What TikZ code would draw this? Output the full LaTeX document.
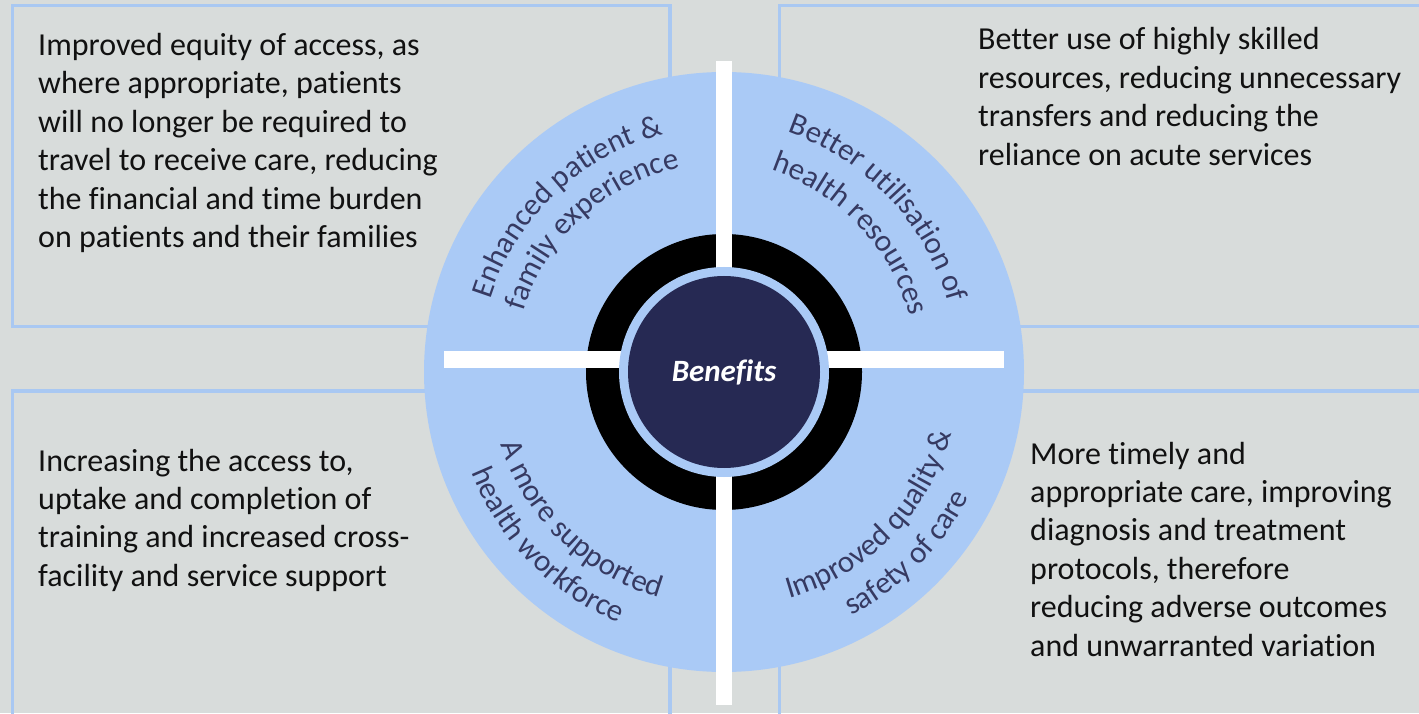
\documentclass[tikz,border=0pt]{standalone}
\usepackage{fontspec}
\setmainfont{Carlito}[Ligatures=NoCommon]
\usetikzlibrary{decorations.text,calc}
\definecolor{bg}{HTML}{D8DCDB}
\definecolor{frame}{HTML}{A9C8F2}
\definecolor{disc}{HTML}{AACAF6}
\definecolor{hub}{HTML}{262953}
\definecolor{lbl}{HTML}{363A62}
\definecolor{bodytxt}{HTML}{111111}
\newcommand\bodyfont{\fontsize{32}{38.4}\selectfont}
\newcommand\lblfont{\fontsize{31}{37}\selectfont}

\begin{document}
\begin{tikzpicture}[x=1pt,y=1pt,
  panel/.style={draw=frame, line width=3.5pt},
  blurb/.style={anchor=base west, inner sep=0pt, font=\bodyfont, text=bodytxt},
  arclabel/.style={decorate, decoration={text along path, text align=center,
      text color=lbl, text={|\lblfont|#1}}}
]
\clip (0,0) rectangle (1419,713);
\fill[bg] (0,0) rectangle (1419,713);
\coordinate (C) at (724,341);
% the upper right labels bend round a point a little left of the hub
\coordinate (Cr) at (704,341);

% four framed panels
\draw[panel] (12.5,707.5) rectangle (670,386.5);
\draw[panel] (779.5,707.5) rectangle (1440,386.5);
\draw[panel] (12.5,322) rectangle (670,-20);
\draw[panel] (779.5,322) rectangle (1440,-20);

% central wheel
\fill[disc] (C) circle[radius=300];
\fill[black] (C) circle[radius=138];
\fill[white] (716,8) rectangle (732,652);
\fill[white] (444,345) rectangle (1004,362);
\fill[disc] (C) circle[radius=105];
\node[circle, fill=hub, minimum size=192pt, inner sep=0pt, text=white,
      font=\lblfont\bfseries\itshape] (hub) at (C) {Benefits};

% curved quadrant labels
\path[arclabel={Enhanced patient {\&}}]
  ($(C)+(183.5:245)$) arc[start angle=183.5, end angle=83.5, radius=245];
\path[arclabel={family experience}]
  ($(C)+(182.7:209)$) arc[start angle=182.7, end angle=82.7, radius=209];
\path[arclabel={Better utilisation of}]
  ($(Cr)+(93.3:254)$) arc[start angle=93.3, end angle=-6.7, radius=254];
\path[arclabel={health resources}]
  ($(Cr)+(93.3:213)$) arc[start angle=93.3, end angle=-6.7, radius=213];
\path[arclabel={A more supported}]
  ($(C)+(176:235)$) arc[start angle=176, end angle=276, radius=235];
\path[arclabel={health workforce}]
  ($(C)+(174.5:272)$) arc[start angle=174.5, end angle=274.5, radius=272];
\path[arclabel={Improved quality {\&}}]
  ($(C)+(265.5:236)$) arc[start angle=265.5, end angle=365.5, radius=236];
\path[arclabel={safety of care}]
  ($(C)+(265.3:275)$) arc[start angle=265.3, end angle=365.3, radius=275];

% panel texts
\node[blurb] (tl) at (38,657.5) {\begin{tabular}[t]{@{}l@{}}
Improved equity of access, as\\
where appropriate, patients\\
will no longer be required to\\
travel to receive care, reducing\\
the financial and time burden\\
on patients and their families\end{tabular}};
\node[blurb] (tr) at (978,663) {\begin{tabular}[t]{@{}l@{}}
Better use of highly skilled\\
resources, reducing unnecessary\\
transfers and reducing the\\
reliance on acute services\end{tabular}};
\node[blurb] (bl) at (38,242) {\begin{tabular}[t]{@{}l@{}}
Increasing the access to,\\
uptake and completion of\\
training and increased cross-\\
facility and service support\end{tabular}};
\node[blurb] (br) at (1030,249) {\begin{tabular}[t]{@{}l@{}}
More timely and\\
appropriate care, improving\\
diagnosis and treatment\\
protocols, therefore\\
reducing adverse outcomes\\
and unwarranted variation\end{tabular}};
\end{tikzpicture}
\end{document}
